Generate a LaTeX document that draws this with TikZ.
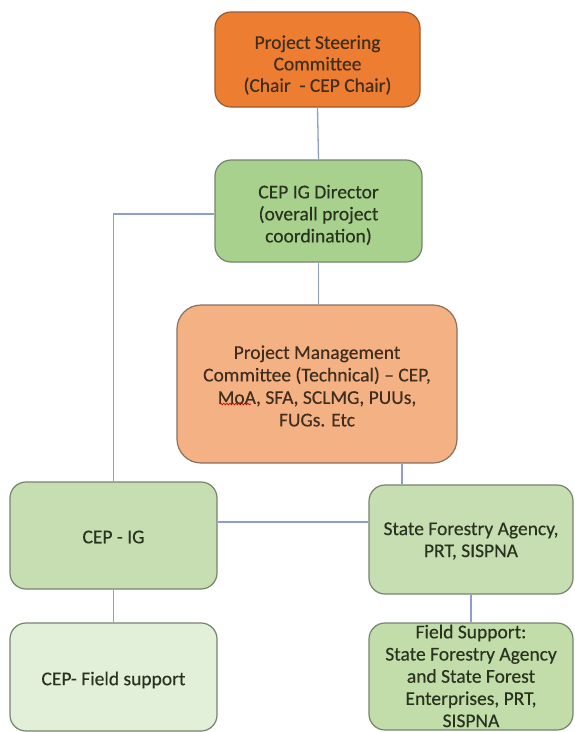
\documentclass[tikz,border=0pt]{standalone}
\usepackage{fontspec}
\setmainfont{Carlito}[FakeBold=0.3]
\usetikzlibrary{calc,decorations.pathmorphing}
\definecolor{steerfill}{HTML}{ED7D31}
\definecolor{steerdraw}{HTML}{9C5B2E}
\definecolor{dirfill}{HTML}{A9D18E}
\definecolor{greendraw}{HTML}{75846C}
\definecolor{pmcfill}{HTML}{F4B183}
\definecolor{pmcdraw}{HTML}{8A7060}
\definecolor{midgreen}{HTML}{C7DEB2}
\definecolor{palegreen}{HTML}{E2EFD9}
\definecolor{fieldgreen}{HTML}{C2DCAA}
\definecolor{linec}{HTML}{8E9FCF}
\definecolor{txtbrown}{HTML}{3F2E1E}
\definecolor{txtgreen}{HTML}{28321F}
\begin{document}
\begin{tikzpicture}[x=1pt,y=-1pt,
  box/.style={draw=greendraw, line width=1.2pt, rounded corners=16pt, inner sep=0pt},
  lbl/.style={inner sep=0pt, align=center, text=txtgreen, font=\fontsize{19.5}{22}\selectfont},
  conn/.style={draw=linec, line width=1.3pt}]
\useasboundingbox (0,0) rectangle (574,732);
\fill[white] (0,0) rectangle (574,732);
% boxes
\node[box, fill=steerfill, draw=steerdraw, minimum width=205pt, minimum height=95pt] (b1) at (317.5,59.5) {};
\node[box, fill=dirfill, minimum width=207pt, minimum height=102pt] (b2) at (318.5,211) {};
\node[box, fill=pmcfill, draw=pmcdraw, rounded corners=24pt, minimum width=280pt, minimum height=158pt] (b3) at (317,384) {};
\node[box, fill=midgreen, minimum width=207pt, minimum height=107pt] (b4) at (113.5,535.5) {};
\node[box, fill=midgreen, minimum width=204pt, minimum height=109pt] (b5) at (471,539.5) {};
\node[box, fill=palegreen, minimum width=207pt, minimum height=108pt] (b6) at (113.5,677) {};
\node[box, fill=fieldgreen, minimum width=204pt, minimum height=107pt] (b7) at (471,676.5) {};
% labels
\node[lbl, text=txtbrown, font=\fontsize{19.5}{21.5}\selectfont] (t1) at (317.5,65)
  {Project Steering\\Committee\\(Chair\ \ - CEP Chair)};
\node[lbl] (t2) at (318.5,215) {CEP IG Director\\(overall project\\coordination)};
\node[lbl, text=txtbrown, font=\fontsize{19.5}{22.5}\selectfont] (t3) at (317,386)
  {Project Management\\Committee (Technical) – CEP,\\MoA, SFA, SCLMG, PUUs,\\FUGs. Etc};
\node[lbl] (t4) at (113.5,537) {CEP - IG};
\node[lbl] (t5) at (471,541) {State Forestry Agency,\\PRT, SISPNA};
\node[lbl] (t6) at (113.5,680) {CEP- Field support};
\node[lbl, font=\fontsize{19.5}{22.2}\selectfont] (t7) at (471,676)
  {Field Support:\\State Forestry Agency\\and State Forest\\Enterprises, PRT,\\SISPNA};
% spell-check squiggle under "MoA"
\draw[red!80!black, line width=0.7pt, decorate, decoration={snake, segment length=3pt, amplitude=0.8pt}] (220,404) -- (251,404);
% connectors
\draw[conn] (b1.south) -- (b2.north);
\draw[conn] ([yshift=-3pt]b2.west) -| (b4.north);
\draw[conn] (b2.south) -- (b2.south |- b3.north);
\draw[conn] ([xshift=85pt]b3.south) -- ([xshift=85pt]b3.south |- b5.north);
\draw[conn] ([yshift=13.5pt]b4.east) -- ([yshift=13.5pt]b4.east -| b5.west);
\draw[conn] (b4.south) -- (b6.north);
\draw[conn] (b5.south) -- (b7.north);
\end{tikzpicture}
\end{document}
